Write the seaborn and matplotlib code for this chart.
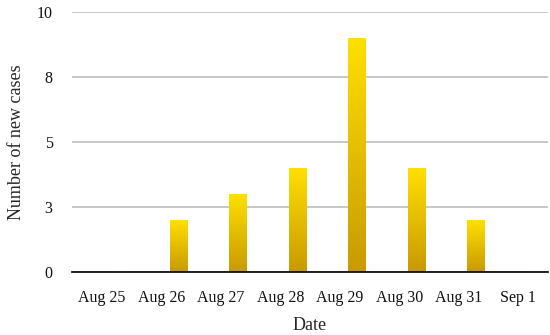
import pandas as pd
import seaborn as sns
import matplotlib.pyplot as plt
import numpy as np
from matplotlib.colors import LinearSegmentedColormap

# Data
dates = ['Aug 25', 'Aug 26', 'Aug 27', 'Aug 28', 'Aug 29', 'Aug 30', 'Aug 31', 'Sep 1']
new_cases = [0, 2, 3, 4, 9, 4, 2, 0]
ytick_pos = [0, 2.5, 5, 7.5, 10]
ytick_labels = ['0', '3', '5', '8', '10']

df = pd.DataFrame({'date': dates, 'cases': new_cases, 'series': 'c'})

sns.set_style('white')
plt.rcParams['font.family'] = ['Liberation Serif', 'DejaVu Serif']

fig = plt.figure(figsize=(5.5, 3.35), dpi=100)
ax = fig.add_axes([0.131, 0.188, 0.865, 0.776])

# Excel-style clustered layout: the visible series sits in the right slot of three
sns.barplot(data=df, x='date', y='cases', hue='series', hue_order=['a', 'b', 'c'],
            palette={'a': '#FFE000', 'b': '#FFE000', 'c': '#FFE000'},
            width=0.88, dodge=True, legend=False, ax=ax, zorder=3)

# vertical gradient fill for each bar
cmap = LinearSegmentedColormap.from_list('gold', ['#C89A00', '#FFE000'])
grad = np.linspace(0, 1, 256).reshape(-1, 1)
for p in list(ax.patches):
    h = p.get_height()
    if h <= 0:
        continue
    x0 = p.get_x()
    w = p.get_width()
    im = ax.imshow(grad, cmap=cmap, origin='lower', aspect='auto',
                   extent=[x0, x0 + w, 0, h], zorder=3)
    im.set_clip_path(p)
    p.set_facecolor('none')
    p.set_edgecolor('none')

ax.set_xlim(-0.5, len(dates) - 0.5)
ax.set_ylim(0, 10)
ax.set_yticks(ytick_pos)
ax.set_yticklabels(ytick_labels)
ax.yaxis.grid(True, color='#BDBDBD', linewidth=1.2, zorder=0)
ax.set_axisbelow(True)

for s in ['top', 'right', 'left']:
    ax.spines[s].set_visible(False)
ax.spines['bottom'].set_color('black')
ax.spines['bottom'].set_linewidth(1.2)
ax.spines['bottom'].set_zorder(4)

ax.tick_params(axis='both', length=0, labelsize=11.5, colors='#111111')
ax.tick_params(axis='x', pad=13)
ax.tick_params(axis='y', pad=14)
ax.set_xlabel('Date', fontsize=13, labelpad=8)
ax.set_ylabel('Number of new cases', fontsize=13, labelpad=8)

fig.savefig('out.png', dpi=100)
